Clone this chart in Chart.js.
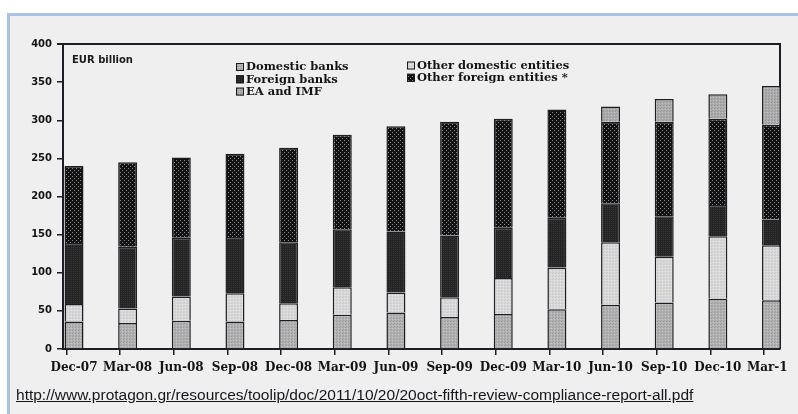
<!DOCTYPE html>
<html>
<head>
<meta charset="utf-8">
<script src="https://cdn.jsdelivr.net/npm/chart.js@4.4.1/dist/chart.umd.min.js"></script>
<style>
  html, body { margin: 0; padding: 0; width: 798px; height: 414px; overflow: hidden; background: #ffffff; }
  #frame { position: absolute; left: 7px; top: 13px; width: 791px; height: 401px; box-sizing: border-box;
           background: #efefef; border-top: 3px solid #a7c4e4; border-left: 3px solid #a7c4e4; }
  #clip { position: absolute; left: 0; top: 0; width: 787px; height: 414px; overflow: hidden; }
  #chart { position: absolute; left: 0; top: 0; width: 798px; height: 414px; }
  #src { position: absolute; left: 16px; top: 387px; font: 14px "Liberation Sans", Arial, sans-serif;
         color: #15151c; text-decoration: underline; white-space: nowrap;
         transform: scaleX(1.108); transform-origin: 0 0; }
</style>
</head>
<body>
<div id="frame"></div>
<div id="clip"><canvas id="chart" width="798" height="414"></canvas></div>
<div id="src">http://www.protagon.gr/resources/toolip/doc/2011/10/20/20oct-fifth-review-compliance-report-all.pdf</div>
<script>
// Quarter-end dates
const categories = ['Dec-07', 'Mar-08', 'Jun-08', 'Sep-08', 'Dec-08', 'Mar-09', 'Jun-09',
                    'Sep-09', 'Dec-09', 'Mar-10', 'Jun-10', 'Sep-10', 'Dec-10', 'Mar-11'];

// Holdings by holder, EUR billion
const domesticBanks  = [36, 34, 37, 36, 38, 45, 48, 42, 46, 52, 58, 61, 66, 64];
const otherDomestic  = [23, 19, 32, 37, 22, 36, 26, 26, 47, 55, 82, 60, 82, 72];
const foreignBanks   = [80, 81, 77, 74, 80, 76, 80, 81, 66, 65, 51, 53, 41, 34];
const otherForeign   = [101, 111, 105, 109, 124, 124, 138, 149, 143, 142, 107, 124, 113, 124];
const eaAndImf       = [0, 0, 0, 0, 0, 0, 0, 0, 0, 0, 20, 30, 32, 51];

const seriesNames = ['Domestic banks', 'Other domestic entities', 'Foreign banks',
                     'Other foreign entities *', 'EA and IMF'];

const yTicks = { min: 0, max: 400, step: 50 };

// Small halftone tiles used as bar fills
function tilePattern(size, base, pixels) {
  const c = document.createElement('canvas');
  c.width = size; c.height = size;
  const g = c.getContext('2d');
  g.fillStyle = base;
  g.fillRect(0, 0, size, size);
  pixels.forEach(([x, y, col]) => { g.fillStyle = col; g.fillRect(x, y, 1, 1); });
  return g.createPattern(c, 'repeat');
}

const fills = [
  tilePattern(3, '#b1b1b1', [[0, 0, '#9a9a9a'], [2, 1, '#c6c6c6'], [1, 2, '#a0a0a0']]),
  tilePattern(3, '#d8d8d8', [[0, 0, '#c8c8c8'], [2, 1, '#e6e6e6'], [1, 2, '#cdcdcd']]),
  tilePattern(2, '#242424', [[1, 1, '#353535']]),
  tilePattern(4, '#121212', [[0, 0, '#8c8c8c'], [2, 2, '#8c8c8c']]),
  tilePattern(3, '#ababab', [[0, 0, '#959595'], [2, 1, '#c0c0c0'], [1, 2, '#9c9c9c']])
];

const seriesValues = [domesticBanks, otherDomestic, foreignBanks, otherForeign, eaAndImf];

const inkColor = '#201b26';

// Top and right edges of the plot frame
const plotFrame = {
  id: 'plotFrame',
  beforeDatasetsDraw(chart) {
    const { ctx, chartArea: a } = chart;
    ctx.save();
    ctx.strokeStyle = inkColor;
    ctx.lineWidth = 2;
    ctx.beginPath();
    ctx.moveTo(a.left - 6, a.top);
    ctx.lineTo(a.right, a.top);
    ctx.lineTo(a.right, a.bottom);
    ctx.stroke();
    ctx.restore();
  }
};

// Unit label and two-column box legend inside the plot
const boxLegend = {
  id: 'boxLegend',
  afterDraw(chart) {
    const { ctx, chartArea: a } = chart;
    const ds = chart.data.datasets;
    ctx.save();
    ctx.fillStyle = '#1a1a1a';
    ctx.textBaseline = 'middle';
    ctx.font = 'bold 10px "DejaVu Sans"';
    ctx.fillText('EUR billion', a.left + 9, a.top + 16);

    const columns = [
      { x: a.left + 173, items: [0, 2, 4], y0: a.top + 23 },
      { x: a.left + 344, items: [1, 3], y0: a.top + 21.5 }
    ];
    ctx.font = 'bold 11.5px "DejaVu Serif"';
    columns.forEach(col => {
      col.items.forEach((idx, r) => {
        const y = col.y0 + r * 12.3;
        ctx.fillStyle = ds[idx].backgroundColor;
        ctx.fillRect(col.x, y - 4, 8, 8);
        ctx.strokeStyle = '#1a1a1a';
        ctx.lineWidth = 1;
        ctx.strokeRect(col.x + 0.5, y - 3.5, 7, 7);
        ctx.fillStyle = '#141414';
        ctx.fillText(ds[idx].label, col.x + 10, y + 0.5);
      });
    });
    ctx.restore();
  }
};

const datasets = seriesValues.map((vals, k) => ({
  label: seriesNames[k],
  data: vals.map((v, i) => ({ x: i, y: v })),
  backgroundColor: fills[k],
  borderColor: inkColor,
  borderWidth: 1.5,
  categoryPercentage: 1,
  barPercentage: 0.354
}));

new Chart(document.getElementById('chart'), {
  type: 'bar',
  data: { datasets },
  plugins: [plotFrame, boxLegend],
  options: {
    responsive: false,
    animation: false,
    devicePixelRatio: 1,
    layout: { padding: { left: 0, top: 44, right: 18, bottom: 0 } },
    plugins: { legend: { display: false }, tooltip: { enabled: false }, title: { display: false } },
    scales: {
      x: {
        type: 'linear',
        stacked: true,
        offset: false,
        min: -0.205,
        max: 13.158,
        afterBuildTicks(scale) {
          scale.ticks = categories.map((c, i) => ({ value: i - 0.14 }));
        },
        afterFit(scale) {
          scale.height = 65;
          scale.paddingLeft = 0;
          scale.paddingRight = 0;
        },
        ticks: {
          callback: (v, i) => categories[i],
          autoSkip: false,
          maxRotation: 0,
          labelOffset: 7.5,
          padding: 6,
          color: '#141414',
          font: { family: 'DejaVu Serif', weight: 'bold', size: 12 }
        },
        grid: { offset: false, drawOnChartArea: false, drawTicks: true, tickLength: 6, color: inkColor, lineWidth: 1.5 },
        border: { display: true, color: inkColor, width: 2 }
      },
      y: {
        stacked: true,
        min: yTicks.min,
        max: yTicks.max,
        afterFit(scale) {
          scale.width = 63;
          scale.paddingTop = 0;
          scale.paddingBottom = 0;
        },
        ticks: {
          stepSize: yTicks.step,
          padding: 5,
          color: '#141414',
          font: { family: 'DejaVu Sans', weight: 'bold', size: 10 }
        },
        grid: { drawOnChartArea: false, drawTicks: true, tickLength: 6, color: inkColor, lineWidth: 1.5 },
        border: { display: true, color: inkColor, width: 2 }
      }
    }
  }
});
</script>
</body>
</html>
